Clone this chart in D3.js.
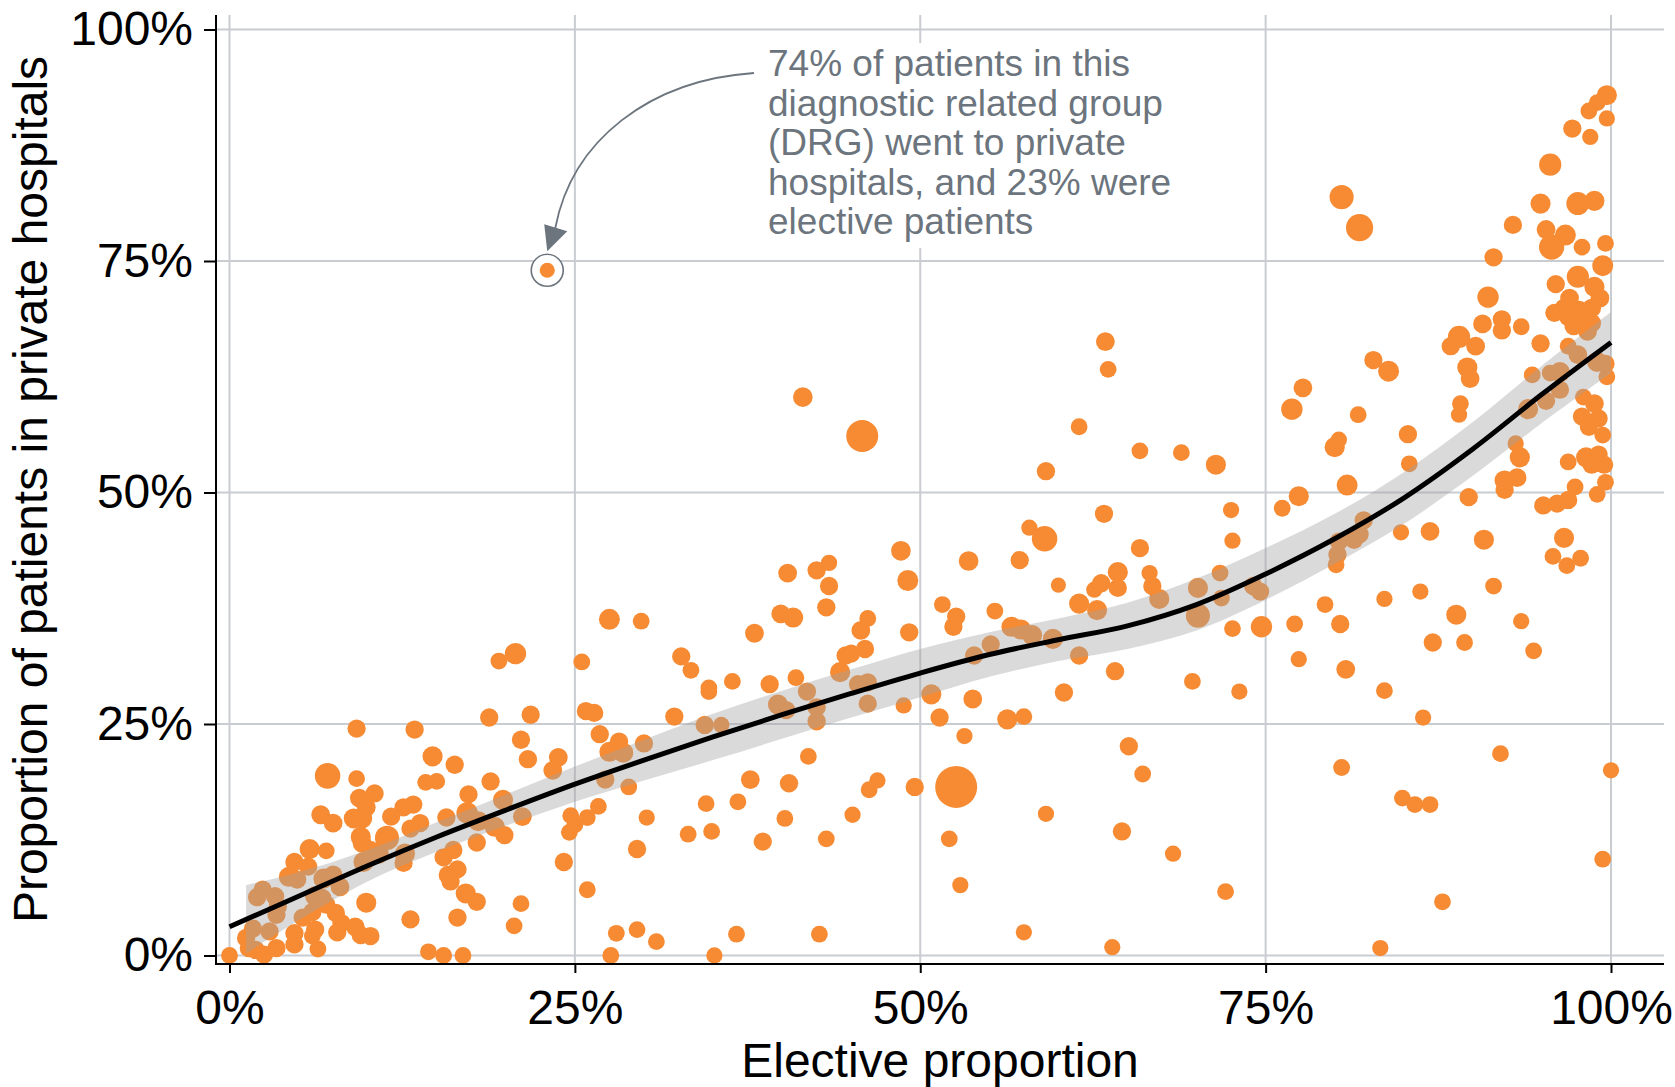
<!DOCTYPE html>
<html>
<head>
<meta charset="utf-8">
<script src="https://cdn.jsdelivr.net/npm/d3@7"></script>
<style>
  html, body { margin: 0; padding: 0; background: #fff; }
  svg { display: block; font-family: "Liberation Sans", Arial, Helvetica, sans-serif; }
</style>
</head>
<body>
<svg id="chart" width="1675" height="1087"></svg>
<script>
// One mark per diagnostic related group (DRG):
// elective share of patients (%), share treated in private hospitals (%), patient volume (size)
const elective = [
  27.5, 29.8, 20.7, 19.5, 25.5, 32.7, 33.4, 25.8, 26.4, 18.8,
  21.8, 32.2, 9.2, 13.4, 21.1, 26.8, 28.2, 27.5, 28.5, 30.0,
  14.7, 21.6, 23.8, 23.4, 16.3, 7.1, 9.2, 14.2, 15.0, 18.9,
  27.2, 28.9, 30.2, 33.2, 29.5, 26.7, 25.9, 24.7, 25.0, 24.6,
  24.2, 25.9, 28.0, 29.5, 30.9, 27.6, 14.4, 15.5, 16.9, 0.0,
  20.6, 21.1, 16.5, 13.1, 9.9, 17.1, 17.9, 15.8, 16.0, 16.5,
  15.5, 16.2, 17.9, 17.3, 17.2, 18.0, 19.2, 19.9, 19.8, 21.2,
  15.7, 13.8, 13.1, 13.3, 12.6, 11.7, 11.4, 12.7, 12.6, 10.5,
  9.4, 9.9, 9.0, 9.6, 9.5, 9.6, 9.7, 10.8, 10.2, 6.6,
  7.5, 5.8, 7.0, 4.7, 5.7, 4.3, 4.9, 6.8, 7.5, 8.0,
  6.2, 6.7, 3.3, 2.0, 2.4, 3.4, 3.5, 5.3, 6.0, 7.0,
  7.7, 8.1, 7.8, 6.2, 6.0, 6.4, 4.7, 4.7, 3.4, 2.5,
  1.9, 1.2, 1.7, 2.9, 1.4, 9.1, 9.5, 10.2,
  41.5, 45.8, 63.6, 61.5, 65.9, 68.9, 59.1, 63.3, 57.9, 59.0,
  48.6, 53.5, 57.2, 65.9, 40.4, 42.5, 43.4, 43.4, 49.1, 43.2,
  39.9, 40.8, 38.0, 51.6, 52.6, 52.4, 55.4, 60.0, 62.6, 63.1,
  64.3, 64.3, 66.6, 66.8, 67.3, 61.5, 62.8, 70.1, 70.1, 69.7,
  56.6, 57.3, 58.1, 55.1, 53.9, 59.6, 61.5, 64.1, 60.4, 53.8,
  50.8, 51.4, 56.3, 57.5, 53.2, 48.8, 46.2, 45.5, 46.2, 44.2,
  44.6, 45.0, 46.0, 45.7, 46.2, 49.2, 41.0, 39.1, 36.4, 34.7,
  34.7, 41.8, 39.7, 40.3, 42.5, 42.5, 34.4, 35.6, 41.9, 37.7,
  40.5, 34.5, 36.8, 34.9, 38.6, 40.2, 43.2, 45.1, 46.3, 46.9,
  49.6, 52.6, 52.1, 52.9, 59.1, 57.5, 63.9, 65.1, 66.1, 64.6,
  68.3, 36.7, 42.7, 35.1, 63.4,
  71.4, 72.5, 72.6, 76.9, 77.7, 82.8, 83.9, 81.7, 80.0, 80.3,
  80.9, 77.4, 76.2, 85.3, 85.4, 84.8, 86.9, 82.1, 81.4, 81.8,
  80.3, 80.2, 80.1, 71.7, 71.8, 74.1, 74.6, 72.6, 74.7, 77.1,
  79.3, 80.4, 83.6, 86.2, 77.4, 80.8, 73.1, 83.6, 86.4, 87.1,
  88.8, 89.4, 91.5, 93.5, 94.4, 90.8, 89.7, 92.3, 92.3, 93.2,
  93.1, 93.4, 94.0, 95.3, 96.3, 96.3, 95.6, 96.9, 97.6, 94.3,
  94.9, 93.5, 99.0, 99.6, 99.7, 98.0, 98.8, 97.9, 98.4, 99.1,
  99.4, 96.9, 98.2, 99.1, 98.6, 99.5, 97.4, 99.6, 99.0, 95.1,
  96.1, 96.9, 96.6, 95.8, 96.8, 97.8, 100.0, 99.4, 92.0, 84.9,
  85.8, 86.9, 80.5, 72.1, 87.8, 83.3, 89.0, 88.4, 90.2, 90.7,
  92.1, 92.1, 89.6, 89.8, 89.1, 89.0,
  80.5, 81.8, 99.7, 99.0, 98.4, 99.7, 97.2, 98.5, 95.6, 94.9,
  97.6, 98.8, 92.9, 95.3, 96.7, 95.7, 97.9, 99.6, 91.5, 99.4,
  96.0, 97.6, 98.8, 99.2, 98.6, 98.1, 97.7, 97.0, 96.6, 96.9,
  97.3, 98.3, 95.9, 98.6, 91.1,
  23
];

const privateShare = [
  36.3, 36.1, 32.6, 31.8, 31.7, 32.3, 30.8, 26.4, 26.2, 25.7,
  26.0, 25.8, 24.5, 24.4, 23.3, 23.9, 23.1, 22.0, 21.9, 22.9,
  21.5, 21.2, 21.4, 20.0, 20.6, 19.4, 19.1, 18.7, 18.8, 18.8,
  19.0, 18.2, 14.9, 13.1, 11.5, 16.1, 14.9, 15.1, 14.1, 13.3,
  10.1, 7.1, 2.4, 2.8, 1.5, 0.0, 0.4, 0.0, 0.0, 0.0,
  3.2, 5.6, 4.1, 3.9, 5.7, 6.7, 5.8, 8.7, 8.0, 9.3,
  10.6, 11.4, 12.2, 17.4, 15.4, 14.5, 13.9, 13.0, 16.8, 15.0,
  14.9, 14.3, 13.7, 16.3, 16.0, 15.0, 12.7, 11.0, 10.0, 17.5,
  17.0, 16.0, 14.8, 14.8, 12.8, 12.1, 10.1, 11.0, 11.4, 15.2,
  14.3, 11.5, 11.3, 10.1, 9.6, 8.5, 8.2, 8.3, 8.7, 7.4,
  6.4, 6.2, 6.4, 6.3, 7.1, 4.4, 5.3, 4.1, 4.7, 5.5,
  4.6, 3.5, 2.5, 2.8, 2.1, 0.7, 2.4, 1.2, 0.8, 0.1,
  0.6, 1.9, 2.9, 2.6, 0.8, 3.1, 2.2, 2.1,
  60.3, 56.1, 63.3, 57.1, 54.5, 54.3, 52.3, 47.7, 46.2, 45.0,
  43.7, 42.6, 42.7, 44.0, 41.3, 41.6, 42.4, 39.9, 40.5, 37.6,
  36.9, 36.5, 34.8, 37.9, 36.6, 35.5, 37.2, 40.0, 39.5, 40.2,
  41.4, 39.7, 41.3, 39.9, 38.5, 38.0, 37.3, 39.7, 36.7, 29.6,
  35.5, 35.2, 34.6, 33.6, 32.4, 34.2, 32.4, 30.7, 28.4, 27.7,
  28.2, 25.7, 25.5, 25.8, 23.7, 27.0, 27.2, 29.3, 29.5, 30.6,
  32.4, 32.6, 33.1, 35.1, 36.4, 34.9, 30.0, 29.3, 29.6, 28.5,
  28.9, 28.5, 27.1, 26.5, 26.8, 25.3, 24.9, 24.9, 21.5, 19.0,
  18.6, 16.4, 16.6, 13.4, 12.3, 14.8, 12.6, 15.2, 17.9, 18.9,
  18.2, 18.2, 12.6, 7.6, 15.3, 2.5, 0.9, 22.6, 19.6, 13.4,
  11.0, 2.3, 2.3, 0.0, 66.3,
  53.0, 48.1, 44.8, 59.0, 61.3, 64.3, 63.1, 58.4, 54.9, 55.7,
  50.8, 49.6, 48.3, 56.3, 53.1, 45.7, 45.8, 47.0, 44.9, 45.5,
  44.7, 43.3, 42.2, 41.3, 38.6, 39.9, 39.3, 35.3, 35.5, 35.8,
  37.9, 35.8, 38.5, 39.3, 32.0, 30.9, 28.5, 28.6, 25.7, 33.8,
  36.8, 33.8, 39.9, 36.1, 32.9, 44.9, 49.5, 50.3, 51.3, 51.6,
  55.3, 53.8, 59.0, 59.9, 63.0, 61.1, 62.9, 65.8, 64.9, 62.7,
  66.1, 67.9, 64.1, 63.9, 62.5, 60.3, 59.6, 58.2, 57.1, 58.0,
  56.2, 53.3, 53.8, 54.1, 53.0, 53.0, 50.6, 51.1, 49.8, 48.6,
  48.8, 49.2, 45.1, 43.1, 42.1, 42.9, 20.0, 10.4, 21.8, 17.0,
  16.3, 16.3, 20.3, 6.9, 5.8, 0.8, 66.8, 65.8, 65.8, 68.2,
  68.7, 67.5, 63.5, 62.3, 59.6, 58.4,
  81.9, 78.6, 92.9, 92.1, 91.2, 90.4, 89.3, 88.4, 85.4, 81.2,
  81.2, 81.5, 78.9, 78.4, 77.8, 76.5, 76.5, 76.9, 75.4, 74.5,
  72.5, 73.3, 72.2, 71.0, 69.9, 69.0, 69.7, 71.0, 69.9, 69.0,
  68.0, 67.4, 69.4, 68.3, 71.1,
  74
];

const volume = [
  25, 16, 26, 16, 16, 19, 16, 19, 19, 19,
  19, 19, 19, 19, 19, 19, 19, 23, 23, 19,
  23, 19, 20, 20, 19, 37, 16, 16, 16, 19,
  19, 16, 15, 16, 19, 16, 16, 16, 16, 16,
  19, 16, 16, 16, 16, 16, 16, 16, 16, 16,
  16, 16, 19, 19, 23, 23, 19, 19, 19, 19,
  19, 19, 19, 19, 26, 23, 23, 19, 23, 20,
  19, 19, 19, 19, 19, 19, 33, 23, 19, 19,
  20, 20, 23, 23, 23, 20, 23, 23, 19, 20,
  20, 23, 16, 19, 19, 23, 19, 23, 20, 20,
  23, 20, 19, 19, 19, 19, 19, 19, 19, 19,
  19, 19, 19, 19, 16, 16, 19, 19, 19, 19,
  19, 19, 19, 19, 19, 20, 19, 19,
  22, 58, 16, 16, 16, 16, 19, 19, 15, 37,
  22, 22, 19, 19, 20, 19, 15, 19, 25, 19,
  20, 23, 20, 16, 19, 19, 16, 13, 15, 19,
  23, 19, 15, 19, 23, 23, 23, 23, 33, 16,
  23, 23, 23, 19, 19, 23, 19, 19, 19, 20,
  23, 19, 23, 16, 15, 15, 19, 19, 19, 23,
  19, 19, 19, 20, 16, 19, 16, 19, 16, 16,
  16, 19, 23, 19, 19, 19, 19, 15, 16, 20,
  19, 16, 16, 16, 19, 16, 16, 15, 16, 15,
  19, 100, 16, 15, 15, 15, 15, 19, 16, 19,
  15, 16, 16, 15, 20,
  23, 15, 15, 26, 20, 19, 25, 16, 23, 15,
  25, 23, 16, 19, 16, 15, 20, 19, 19, 19,
  19, 19, 16, 16, 16, 19, 19, 16, 26, 16,
  16, 19, 15, 15, 15, 20, 15, 16, 15, 19,
  23, 16, 16, 15, 16, 23, 19, 19, 23, 20,
  15, 23, 23, 19, 23, 19, 16, 16, 20, 16,
  19, 16, 23, 19, 16, 16, 20, 19, 19, 19,
  16, 16, 23, 19, 19, 19, 16, 16, 16, 19,
  19, 19, 23, 16, 16, 16, 15, 16, 16, 16,
  16, 16, 16, 16, 16, 15, 28, 19, 20, 20,
  19, 19, 23, 20, 16, 15,
  33, 42, 23, 16, 16, 15, 19, 15, 28, 23,
  30, 23, 19, 20, 25, 36, 16, 16, 19, 25,
  19, 28, 23, 20, 20, 20, 20, 20, 20, 20,
  20, 20, 19, 20, 26,
  13
];

// Smoothed fit (loess) and its confidence band
const trendX = [0, 5, 10, 15, 20, 25, 30, 35, 40, 45, 50, 55, 60, 65, 70, 75, 80, 85, 90, 95, 100];
const trendY = [3.1, 6.4, 9.7, 12.8, 15.7, 18.5, 21.1, 23.6, 26.0, 28.3, 30.5, 32.5, 34.1, 35.6, 37.9, 41.2, 45.0, 49.4, 54.7, 60.6, 66.2];
const bandX  = [1.2, 5, 10, 15, 20, 25, 30, 35, 40, 45, 50, 55, 60, 65, 70, 75, 80, 85, 90, 95, 100];
const bandLo = [0.2, 3.8, 8.0, 11.2, 14.0, 16.6, 18.9, 21.1, 23.4, 25.7, 27.9, 30.1, 31.8, 33.1, 35.1, 38.4, 42.3, 46.6, 51.8, 57.5, 62.9];
const bandHi = [7.6, 9.0, 11.4, 14.4, 17.4, 20.4, 23.3, 26.1, 28.6, 30.9, 33.1, 34.9, 36.4, 38.1, 40.7, 44.0, 47.7, 52.2, 57.6, 63.7, 69.5];

const xTicks = [0, 25, 50, 75, 100];
const yTicks = [0, 25, 50, 75, 100];

// Highlighted DRG and its note
const noteElective = 23;
const notePrivate = 74;
const noteLines = [
  "74% of patients in this",
  "diagnostic related group",
  "(DRG) went to private",
  "hospitals, and 23% were",
  "elective patients"
];

const xTitle = "Elective proportion";
const yTitle = "Proportion of patients in private hospitals";

// ---- layout ----
const panel = { left: 216, right: 1664, top: 15, bottom: 964 };
const x = d3.scaleLinear().domain([0, 100]).range([229.5, 1611]);
const y = d3.scaleLinear().domain([0, 100]).range([955.5, 29.5]);
const r = d3.scaleSqrt().domain([0, 100]).range([0, 21]);

const orange = "#f68b33";
const grid = "#c9ccd1";
const noteGrey = "#6c757d";
const fontFamily = '"Liberation Sans", Arial, Helvetica, sans-serif';
const labelSize = 48;

const svg = d3.select("#chart");

// gridlines
const gGrid = svg.append("g");
gGrid.selectAll("line.h").data(yTicks).join("line")
  .attr("x1", panel.left).attr("x2", panel.right)
  .attr("y1", d => y(d)).attr("y2", d => y(d))
  .attr("stroke", grid).attr("stroke-width", 2);
gGrid.selectAll("line.v").data(xTicks).join("line")
  .attr("y1", panel.top).attr("y2", panel.bottom)
  .attr("x1", d => x(d)).attr("x2", d => x(d))
  .attr("stroke", grid).attr("stroke-width", 2);

// white box behind the note text
svg.append("rect")
  .attr("x", 760).attr("y", 43).attr("width", 425).attr("height", 205)
  .attr("fill", "#fff");

// ring around the highlighted DRG (white fill hides the gridline)
svg.append("circle")
  .attr("cx", x(noteElective)).attr("cy", y(notePrivate)).attr("r", 16)
  .attr("fill", "#fff").attr("stroke", noteGrey).attr("stroke-width", 1.6);

// points
const points = elective.map((e, i) => ({ e, p: privateShare[i], v: volume[i] }));
svg.append("g").selectAll("circle").data(points).join("circle")
  .attr("cx", d => x(d.e))
  .attr("cy", d => y(d.p))
  .attr("r", d => r(d.v))
  .attr("fill", orange);

// confidence band
const band = bandX.map((b, i) => ({ x: b, lo: bandLo[i], hi: bandHi[i] }));
svg.append("path")
  .datum(band)
  .attr("d", d3.area().x(d => x(d.x)).y0(d => y(d.lo)).y1(d => y(d.hi)).curve(d3.curveCatmullRom.alpha(0.5)))
  .attr("fill", "#a3a3a3").attr("fill-opacity", 0.4);

// fitted line
const trend = trendX.map((t, i) => ({ x: t, y: trendY[i] }));
svg.append("path")
  .datum(trend)
  .attr("d", d3.line().x(d => x(d.x)).y(d => y(d.y)).curve(d3.curveCatmullRom.alpha(0.5)))
  .attr("fill", "none").attr("stroke", "#000").attr("stroke-width", 5)
  .attr("stroke-linecap", "butt");

// axes
const yAxis = d3.axisLeft(y).tickValues(yTicks).tickFormat(d => d + "%").tickSize(12).tickPadding(11);
const gy = svg.append("g").attr("transform", `translate(${panel.left},0)`).call(yAxis);
const xAxis = d3.axisBottom(x).tickValues(xTicks).tickFormat(d => d + "%").tickSize(9).tickPadding(17);
const gx = svg.append("g").attr("transform", `translate(0,${panel.bottom})`).call(xAxis);
[gx, gy].forEach(g => {
  g.select(".domain").remove();
  g.attr("font-family", fontFamily).attr("font-size", labelSize);
  g.selectAll(".tick line").attr("stroke", "#000").attr("stroke-width", 2);
  g.selectAll(".tick text").attr("fill", "#000");
});
svg.append("line")
  .attr("x1", panel.left).attr("x2", panel.left)
  .attr("y1", panel.top).attr("y2", panel.bottom + 1)
  .attr("stroke", "#000").attr("stroke-width", 2);
svg.append("line")
  .attr("x1", panel.left - 1).attr("x2", panel.right)
  .attr("y1", panel.bottom).attr("y2", panel.bottom)
  .attr("stroke", "#000").attr("stroke-width", 2);

// axis titles
svg.append("text")
  .attr("x", (panel.left + panel.right) / 2).attr("y", 1077)
  .attr("text-anchor", "middle").attr("font-size", labelSize).attr("fill", "#000")
  .text(xTitle);
svg.append("text")
  .attr("transform", `translate(47,${(panel.top + panel.bottom) / 2}) rotate(-90)`)
  .attr("text-anchor", "middle").attr("font-size", labelSize).attr("fill", "#000")
  .text(yTitle);

// note text
svg.append("g").selectAll("text").data(noteLines).join("text")
  .attr("x", 768).attr("y", (d, i) => 76 + i * 39.6)
  .attr("font-size", 37).attr("fill", noteGrey)
  .text(d => d);

// curved arrow pointing at the highlighted DRG
const tipX = x(noteElective), tipY = y(notePrivate) - 19;
svg.append("path")
  .attr("d", `M754,73 C650,80 572,140 ${tipX + 8},${tipY - 23}`)
  .attr("fill", "none").attr("stroke", noteGrey).attr("stroke-width", 1.8);
svg.append("path")
  .attr("d", `M${tipX},${tipY} L${tipX - 3},${tipY - 27} L${tipX + 20},${tipY - 20} Z`)
  .attr("fill", noteGrey);
</script>
</body>
</html>
